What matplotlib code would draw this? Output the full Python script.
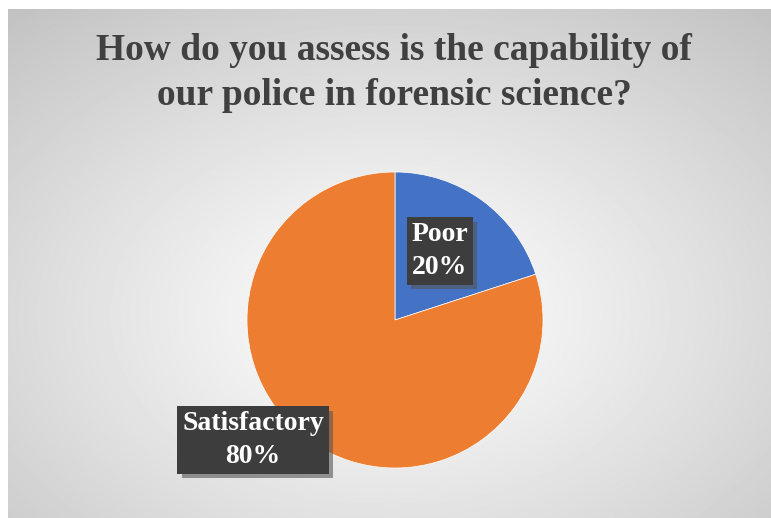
import numpy as np
import matplotlib
matplotlib.use("Agg")
import matplotlib.pyplot as plt
import matplotlib.patheffects as pe

labels = ["Poor", "Satisfactory"]
values = [20, 80]
colors = ["#4472C4", "#ED7D31"]
title = "How do you assess is the capability of\nour police in forensic science?"

W, H = 771, 518
fig = plt.figure(figsize=(W / 100, H / 100), dpi=100)
fig.patch.set_facecolor("white")

# background with radial gradient
x0, y0 = 8 / W, 0
bg = fig.add_axes([x0, y0, 1 - x0, 1 - 9 / H])
bg.set_axis_off()
yy, xx = np.mgrid[0:400, 0:600]
cx, cy = 300, 240
r = np.sqrt(((xx - cx) / 560) ** 2 + ((yy - cy) / 380) ** 2)
r = r / r.max()
g = 1.0 - 0.24 * np.clip(r, 0, 1) ** 1.1
bg.imshow(g, cmap="gray", vmin=0, vmax=1, aspect="auto", extent=[0, 1, 0, 1])
bg.set_xlim(0, 1)
bg.set_ylim(0, 1)

# pie
R = 148
cxp, cyp = 395, 320
ax = fig.add_axes([(cxp - R) / W, (H - cyp - R) / H, 2 * R / W, 2 * R / H])
wedges, _ = ax.pie(values, colors=colors, startangle=90, counterclock=False,
                   radius=1.0, wedgeprops=dict(edgecolor="white", linewidth=0.5))
ax.set_xlim(-1, 1)
ax.set_ylim(-1, 1)
ax.set_aspect("equal")

# data labels
label_pos = [(440, 251), (253, 440)]
for lab, v, (px, py) in zip(labels, values, label_pos):
    fig.text(px / W, 1 - py / H, f"{lab}\n{v}%", ha="center", va="center",
             family="Liberation Serif", fontweight="bold", fontsize=20,
             color="white", linespacing=1.4,
             bbox=dict(boxstyle="square,pad=0.17", facecolor="#3d3d3d",
                       edgecolor="none",
                       path_effects=[pe.SimplePatchShadow(offset=(3, -3), shadow_rgbFace="#555555", alpha=0.6), pe.Normal()]))

fig.text(394 / W, 1 - 73 / H, title, ha="center", va="center",
         family="Liberation Serif", fontweight="bold", fontsize=27,
         color="#404040", linespacing=1.38)

fig.savefig("out.png", dpi=100)
